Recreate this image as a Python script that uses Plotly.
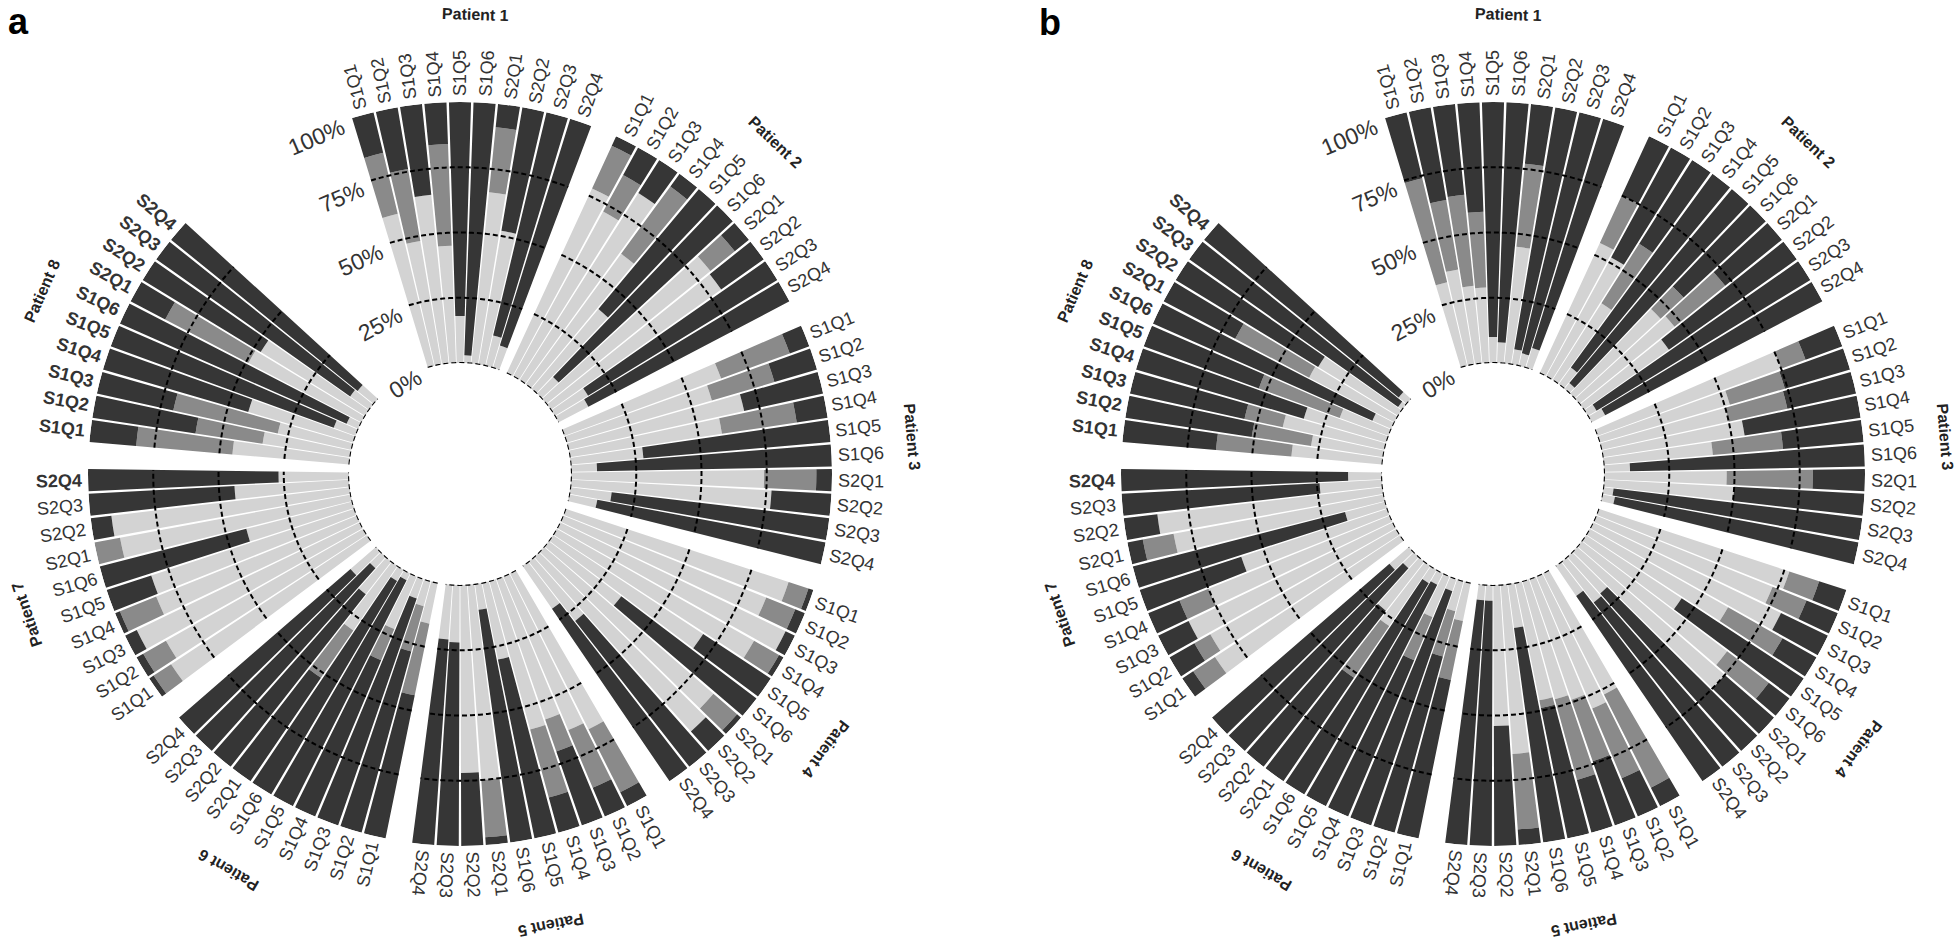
import numpy as np
import plotly.graph_objects as go

patients = [f"Patient {i}" for i in range(1, 9)]
questions = ["S1Q1", "S1Q2", "S1Q3", "S1Q4", "S1Q5", "S1Q6", "S2Q1", "S2Q2", "S2Q3", "S2Q4"]
levels = [0, 25, 50, 75, 100]
level_labels = ["0%", "25%", "50%", "75%", "100%"]

# panel a: share (%) of each answer class, one row per patient, one value per question
light_a = [
    [60, 48, 65, 45, 18, 3, 66, 52, 12, 9],
    [78, 72, 85, 62, 40, 9, 81, 80, 15, 13],
    [64, 58, 69, 59, 28, 10, 74, 77, 16, 11],
    [90, 84, 96, 87, 69, 35, 86, 90, 29, 20],
    [67, 64, 57, 59, 30, 10, 75, 72, 22, 21],
    [16, 10, 8, 22, 3, 5, 30, 16, 6, 13],
    [90, 87, 95, 83, 82, 42, 90, 92, 44, 27],
    [45, 34, 29, 42, 9, 5, 49, 47, 9, 8],
]
mid_a = [
    [24, 28, 0, 39, 0, 0, 25, 0, 0, 0],
    [18, 16, 0, 32, 0, 0, 12, 0, 0, 0],
    [28, 25, 0, 29, 0, 0, 20, 0, 0, 0],
    [8, 12, 0, 11, 0, 0, 12, 0, 0, 0],
    [27, 24, 13, 27, 0, 0, 22, 0, 0, 0],
    [28, 18, 0, 13, 0, 0, 22, 0, 0, 0],
    [8, 10, 0, 15, 0, 0, 10, 0, 0, 0],
    [37, 26, 41, 0, 0, 0, 36, 0, 0, 0],
]
dark_a = [
    [16, 24, 35, 16, 82, 97, 9, 48, 88, 91],
    [4, 12, 15, 6, 60, 91, 7, 20, 85, 87],
    [8, 17, 31, 12, 72, 90, 6, 23, 84, 89],
    [2, 4, 4, 2, 31, 65, 2, 10, 71, 80],
    [6, 12, 30, 14, 70, 90, 3, 28, 78, 79],
    [56, 72, 92, 65, 97, 95, 48, 84, 94, 87],
    [2, 3, 5, 2, 18, 58, 0, 8, 56, 73],
    [18, 40, 30, 58, 91, 95, 15, 53, 91, 92],
]

# panel b
light_b = [
    [33, 37, 30, 29, 10, 8, 45, 6, 5, 8],
    [55, 52, 35, 8, 3, 45, 47, 40, 4, 6],
    [75, 52, 50, 55, 42, 10, 47, 50, 4, 5],
    [77, 73, 80, 61, 44, 70, 75, 19, 20, 14],
    [52, 55, 49, 47, 46, 17, 65, 54, 6, 6],
    [15, 12, 5, 17, 5, 6, 28, 24, 6, 10],
    [85, 82, 87, 75, 59, 16, 82, 87, 24, 13],
    [35, 28, 40, 33, 20, 8, 37, 36, 2, 4],
]
mid_b = [
    [41, 27, 35, 29, 0, 0, 32, 0, 0, 0],
    [20, 0, 27, 0, 0, 12, 25, 0, 0, 0],
    [10, 22, 23, 0, 27, 0, 33, 0, 0, 0],
    [12, 14, 0, 24, 0, 20, 0, 0, 0, 0],
    [40, 29, 25, 32, 3, 0, 29, 0, 0, 0],
    [23, 18, 0, 18, 0, 0, 24, 0, 0, 0],
    [10, 7, 0, 12, 0, 0, 12, 0, 0, 0],
    [29, 23, 15, 0, 33, 0, 32, 0, 0, 0],
]
dark_b = [
    [26, 36, 35, 42, 90, 92, 23, 94, 95, 92],
    [25, 48, 38, 92, 97, 43, 28, 60, 96, 94],
    [15, 26, 27, 45, 31, 90, 20, 50, 96, 95],
    [11, 13, 20, 15, 56, 10, 25, 81, 80, 86],
    [8, 16, 26, 21, 51, 83, 6, 46, 94, 94],
    [62, 70, 95, 65, 95, 94, 48, 76, 94, 90],
    [5, 11, 13, 13, 41, 84, 6, 13, 76, 87],
    [36, 49, 45, 67, 47, 92, 31, 64, 98, 96],
]

W, H = 1960, 945
R_OUT, R_IN = 372, 111
CENTERS = {"polar": (460, 474), "polar2": (1493, 474)}
STEP = 360 / 95  # one empty slot between patients, a wider gap before patient 1
BAR_W = STEP * 0.9
COLORS = ["#d3d3d3", "#8a8a8a", "#363636"]
FONT = "Liberation Sans, Arial, sans-serif"
TXT = "#333333"


def theta_of(g, j):
    return (11 * g + j - 4) * STEP


def to_paper(center, r, phi):
    cx, cy = center
    x = cx + r * np.cos(np.radians(phi))
    y = cy - r * np.sin(np.radians(phi))
    return x / W, 1 - y / H


def norm(a):
    return ((a + 180) % 360) - 180


thetas = [theta_of(g, j) for g in range(8) for j in range(10)]

fig = go.Figure()
annotations = []

for sub, segs in (("polar", (light_a, mid_a, dark_a)), ("polar2", (light_b, mid_b, dark_b))):
    for vals, col in zip(segs, COLORS):
        fig.add_trace(go.Barpolar(
            r=[v for row in vals for v in row], theta=thetas, width=BAR_W,
            marker=dict(color=col, line=dict(width=0)),
            subplot=sub, showlegend=False, hoverinfo="skip"))

    # dashed grid arcs, drawn per patient
    th, rr = [], []
    for g in range(8):
        arc = np.linspace(theta_of(g, 0) - BAR_W / 2, theta_of(g, 9) + BAR_W / 2, 60)
        for lv in levels[:-1]:
            th += list(arc) + [None]
            rr += [lv] * len(arc) + [None]
    fig.add_trace(go.Scatterpolar(
        r=rr, theta=th, mode="lines", cliponaxis=False,
        line=dict(color="black", width=2, dash="5px,3px"),
        subplot=sub, showlegend=False, hoverinfo="skip"))

    center = CENTERS[sub]
    # question labels
    for g in range(8):
        for j, q in enumerate(questions):
            phi = 90 - theta_of(g, j)
            ang = norm(-phi + (180 if g >= 5 else 0))
            bold = g == 7 or (g == 6 and j == 9)
            x, y = to_paper(center, R_OUT + 29, phi)
            annotations.append(dict(
                x=x, y=y, xref="paper", yref="paper", showarrow=False,
                text=f"<b>{q}</b>" if bold else q, textangle=ang,
                xanchor="center", yanchor="middle",
                font=dict(family=FONT, size=18, color=TXT)))
        # patient labels
        phi_c = 90 - theta_of(g, 4.5)
        r_lab = 453 + 7 * abs(np.sin(np.radians(phi_c)))
        x, y = to_paper(center, r_lab, phi_c)
        annotations.append(dict(
            x=x, y=y, xref="paper", yref="paper", showarrow=False,
            text=f"<b>{patients[g]}</b>", textangle=norm(90 - phi_c),
            xanchor="center", yanchor="middle",
            font=dict(family=FONT, size=16, color="#222222")))

    # percentage scale in the gap before patient 1
    edge = 90 - theta_of(0, 0) + BAR_W / 2
    for lv, lab in zip(levels, level_labels):
        r = R_IN + lv / 100 * (R_OUT - R_IN) - 6
        wtxt = 23 * (0.556 * (len(lab) - 1) + 0.889)
        phi_c = edge + np.degrees((10 + wtxt / 2) / r)
        x, y = to_paper(center, r, phi_c)
        annotations.append(dict(
            x=x, y=y, xref="paper", yref="paper", showarrow=False,
            text=lab, textangle=90 - phi_c, xanchor="center", yanchor="middle",
            font=dict(family=FONT, size=23, color=TXT)))

annotations.append(dict(x=18 / W, y=1 - 21 / H, xref="paper", yref="paper", showarrow=False,
                        text="<b>a</b>", xanchor="center", yanchor="middle",
                        font=dict(family=FONT, size=36, color="black")))
annotations.append(dict(x=1050 / W, y=1 - 23 / H, xref="paper", yref="paper", showarrow=False,
                        text="<b>b</b>", xanchor="center", yanchor="middle",
                        font=dict(family=FONT, size=36, color="black")))


def polar_layout(center):
    cx, cy = center
    return dict(
        domain=dict(x=[(cx - R_OUT) / W, (cx + R_OUT) / W],
                    y=[(H - cy - R_OUT) / H, (H - cy + R_OUT) / H]),
        hole=R_IN / R_OUT, bgcolor="white", barmode="stack", bargap=0,
        radialaxis=dict(range=[0, 100], visible=False),
        angularaxis=dict(rotation=90, direction="clockwise", visible=False),
    )


fig.update_layout(
    width=W, height=H, margin=dict(l=0, r=0, t=0, b=0),
    paper_bgcolor="white", plot_bgcolor="white",
    polar=polar_layout(CENTERS["polar"]),
    polar2=polar_layout(CENTERS["polar2"]),
    annotations=annotations,
)

fig.write_html("out.html", config={"displayModeBar": False},
               post_script="document.body.style.margin='0';document.body.style.overflow='hidden';")
